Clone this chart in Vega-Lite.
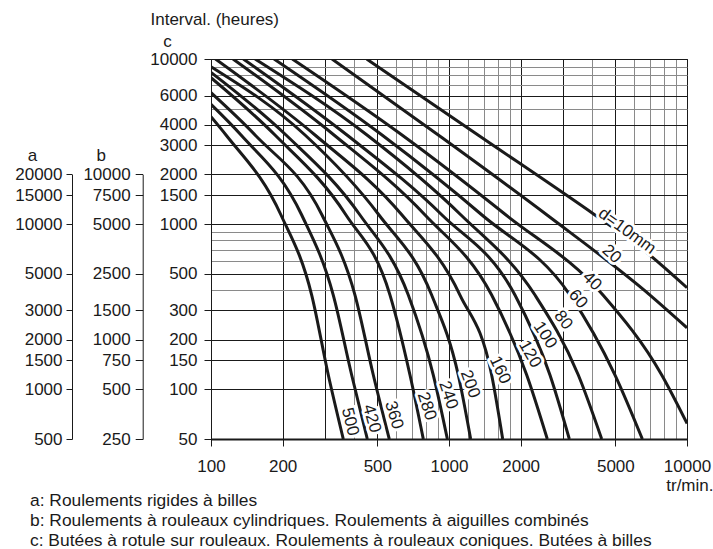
{
  "$schema": "https://vega.github.io/schema/vega-lite/v6.json",
  "width": 476,
  "height": 380,
  "autosize": {"type": "none"},
  "padding": {"left": 211, "top": 59, "right": 26, "bottom": 110},
  "background": "white",
  "config": {
    "font": "Liberation Sans",
    "view": {"stroke": "#1a1a1a", "strokeWidth": 1},
    "axis": {
      "labelFont": "Liberation Sans", "labelFontSize": 17, "labelColor": "#1a1a1a",
      "titleFont": "Liberation Sans", "titleFontSize": 17, "titleFontWeight": "normal", "titleColor": "#1a1a1a",
      "domainColor": "#1a1a1a", "tickColor": "#1a1a1a",
      "labelOverlap": false, "labelBound": false, "labelFlush": false
    }
  },
  "title": {
    "text": ["a: Roulements rigides à billes", "b: Roulements à rouleaux cylindriques. Roulements à aiguilles combinés", "c: Butées à rotule sur rouleaux. Roulements à rouleaux coniques. Butées à billes"],
    "orient": "bottom", "anchor": "start", "frame": "group", "dx": -181, "offset": -1,
    "fontSize": 17.4, "fontWeight": "normal", "font": "Liberation Sans", "color": "#1a1a1a", "lineHeight": 20
  },
  "datasets": {
    "curves": [
      {"d": 500, "rpm": 100, "h": 4473}, {"d": 500, "rpm": 115.6, "h": 3465}, {"d": 500, "rpm": 196.8, "h": 1136}, {"d": 500, "rpm": 264.9, "h": 372}, {"d": 500, "rpm": 311.1, "h": 122}, {"d": 500, "rpm": 359.6, "h": 50},
      {"d": 420, "rpm": 100, "h": 5316}, {"d": 420, "rpm": 133.7, "h": 3465}, {"d": 420, "rpm": 240.5, "h": 1136}, {"d": 420, "rpm": 326.4, "h": 372}, {"d": 420, "rpm": 390, "h": 122}, {"d": 420, "rpm": 453.7, "h": 50},
      {"d": 360, "rpm": 100, "h": 6250}, {"d": 360, "rpm": 153.1, "h": 3465}, {"d": 360, "rpm": 292.7, "h": 1136}, {"d": 360, "rpm": 402.7, "h": 372}, {"d": 360, "rpm": 480.8, "h": 122}, {"d": 360, "rpm": 561, "h": 50},
      {"d": 280, "rpm": 100, "h": 7705}, {"d": 280, "rpm": 185.7, "h": 3465}, {"d": 280, "rpm": 369.2, "h": 1136}, {"d": 280, "rpm": 565.1, "h": 372}, {"d": 280, "rpm": 685.6, "h": 122}, {"d": 280, "rpm": 779.8, "h": 50},
      {"d": 240, "rpm": 100, "h": 8306}, {"d": 240, "rpm": 206.6, "h": 3465}, {"d": 240, "rpm": 422.6, "h": 1136}, {"d": 240, "rpm": 674.5, "h": 372}, {"d": 240, "rpm": 859.1, "h": 122}, {"d": 240, "rpm": 984.3, "h": 50},
      {"d": 200, "rpm": 100, "h": 8981}, {"d": 200, "rpm": 248.3, "h": 3465}, {"d": 200, "rpm": 508, "h": 1136}, {"d": 200, "rpm": 845.5, "h": 372}, {"d": 200, "rpm": 1094, "h": 122}, {"d": 200, "rpm": 1233, "h": 50},
      {"d": 160, "rpm": 104.4, "h": 10000}, {"d": 160, "rpm": 273.5, "h": 3465}, {"d": 160, "rpm": 634.6, "h": 1136}, {"d": 160, "rpm": 1112, "h": 372}, {"d": 160, "rpm": 1511, "h": 122}, {"d": 160, "rpm": 1681, "h": 50},
      {"d": 120, "rpm": 123.7, "h": 10000}, {"d": 120, "rpm": 328.6, "h": 3465}, {"d": 120, "rpm": 793.2, "h": 1136}, {"d": 120, "rpm": 1511, "h": 372}, {"d": 120, "rpm": 2121, "h": 122}, {"d": 120, "rpm": 2588, "h": 50},
      {"d": 100, "rpm": 136.7, "h": 10000}, {"d": 100, "rpm": 372.7, "h": 3465}, {"d": 100, "rpm": 934.5, "h": 1136}, {"d": 100, "rpm": 1893, "h": 372}, {"d": 100, "rpm": 2656, "h": 122}, {"d": 100, "rpm": 3203, "h": 50},
      {"d": 80, "rpm": 153.1, "h": 10000}, {"d": 80, "rpm": 452.3, "h": 3465}, {"d": 80, "rpm": 1123, "h": 1136}, {"d": 80, "rpm": 2298, "h": 372}, {"d": 80, "rpm": 3494, "h": 122}, {"d": 80, "rpm": 4381, "h": 50},
      {"d": 60, "rpm": 184, "h": 10000}, {"d": 60, "rpm": 523.1, "h": 3465}, {"d": 60, "rpm": 1376, "h": 1136}, {"d": 60, "rpm": 3224, "h": 372}, {"d": 60, "rpm": 4984, "h": 122}, {"d": 60, "rpm": 6492, "h": 50},
      {"d": 40, "rpm": 219.6, "h": 10000}, {"d": 40, "rpm": 634.6, "h": 3465}, {"d": 40, "rpm": 1736, "h": 1136}, {"d": 40, "rpm": 4436, "h": 372}, {"d": 40, "rpm": 7831, "h": 122}, {"d": 40, "rpm": 10000, "h": 62.1},
      {"d": 20, "rpm": 322.4, "h": 10000}, {"d": 20, "rpm": 901.6, "h": 3465}, {"d": 20, "rpm": 2582, "h": 1136}, {"d": 20, "rpm": 6991, "h": 372}, {"d": 20, "rpm": 10000, "h": 235.8},
      {"d": 10, "rpm": 451, "h": 10000}, {"d": 10, "rpm": 1324, "h": 3465}, {"d": 10, "rpm": 4105, "h": 1136}, {"d": 10, "rpm": 6346, "h": 726.5}, {"d": 10, "rpm": 10000, "h": 412}
    ],
    "labels": [
      {"d": 10, "text": "d=10mm", "rpm": 5598, "h": 908},
      {"d": 20, "text": "20", "rpm": 4827, "h": 659},
      {"d": 40, "text": "40", "rpm": 3990, "h": 452},
      {"d": 60, "text": "60", "rpm": 3483, "h": 351.8},
      {"d": 80, "text": "80", "rpm": 3021, "h": 262.5},
      {"d": 100, "text": "100", "rpm": 2532, "h": 213},
      {"d": 120, "text": "120", "rpm": 2189, "h": 163.4},
      {"d": 160, "text": "160", "rpm": 1638, "h": 130.7},
      {"d": 200, "text": "200", "rpm": 1225, "h": 107.5},
      {"d": 240, "text": "240", "rpm": 993, "h": 92.2},
      {"d": 280, "text": "280", "rpm": 806, "h": 79.1},
      {"d": 360, "text": "360", "rpm": 587, "h": 69.8},
      {"d": 420, "text": "420", "rpm": 473.4, "h": 66.4},
      {"d": 500, "text": "500", "rpm": 383.7, "h": 63.6}
    ]
  },
  "layer": [
    {
      "layer": [
        {
          "data": {"name": "curves"},
          "mark": {"type": "line", "color": "#1a1a1a", "strokeWidth": 3, "interpolate": "monotone", "clip": true},
          "encoding": {
            "x": {
              "field": "rpm", "type": "quantitative",
              "scale": {"type": "log", "domain": [100, 10000], "nice": false},
              "axis": {
                "values": [100, 200, 300, 400, 500, 600, 700, 800, 900, 1000, 1200, 1400, 1600, 1800, 2000, 3000, 4000, 5000, 6000, 7000, 8000, 9000, 10000],
                "labelExpr": "indexof([100,200,500,1000,2000,5000,10000], datum.value) >= 0 ? format(datum.value, 'd') : ''",
                "grid": true,
                "gridColor": {"condition": {"test": "indexof([100,200,300,500,1000,2000,3000,5000,10000], datum.value) >= 0", "value": "#1a1a1a"}, "value": "#8a8a8a"},
                "gridWidth": 1,
                "tickColor": {"condition": {"test": "indexof([100,200,500,1000,2000,5000,10000], datum.value) >= 0", "value": "#1a1a1a"}, "value": "transparent"},
                "tickSize": 7, "labelPadding": 12, "domainWidth": 2,
                "title": "tr/min.", "titleX": 502, "titleY": 51, "titleAlign": "right", "titleBaseline": "alphabetic"
              }
            },
            "y": {
              "field": "h", "type": "quantitative",
              "scale": {"type": "log", "domain": [50, 10000], "nice": false},
              "axis": {
                "values": [50, 100, 150, 200, 300, 400, 500, 600, 700, 800, 900, 1000, 1500, 2000, 3000, 4000, 5000, 6000, 7000, 8000, 9000, 10000],
                "labelExpr": "indexof([50,100,150,200,300,500,1000,1500,2000,3000,4000,6000,10000], datum.value) >= 0 ? format(datum.value, 'd') : ''",
                "grid": true,
                "gridColor": {"condition": {"test": "indexof([50,100,150,200,300,500,1000,1500,2000,3000,4000,6000,10000], datum.value) >= 0", "value": "#1a1a1a"}, "value": "#8a8a8a"},
                "gridWidth": 1,
                "tickColor": {"condition": {"test": "indexof([50,100,150,200,300,500,1000,1500,2000,3000,4000,6000,10000], datum.value) >= 0", "value": "#1a1a1a"}, "value": "transparent"},
                "tickSize": 7, "labelPadding": 7,
                "title": "Interval. (heures)", "titleAngle": 0, "titleAlign": "left", "titleBaseline": "middle",
                "titleX": -61, "titleY": -40
              }
            },
            "detail": {"field": "d", "type": "nominal"}
          }
        },
        {
          "data": {"name": "labels"},
          "mark": {"type": "text", "font": "Liberation Sans", "fontSize": 17, "fill": "white", "stroke": "white", "strokeWidth": 6, "strokeJoin": "round"},
          "encoding": {
            "x": {"field": "rpm", "type": "quantitative"},
            "y": {"field": "h", "type": "quantitative"},
            "text": {"field": "text"},
            "angle": {"field": "d", "type": "quantitative", "scale": {"domain": [10, 20, 40, 60, 80, 100, 120, 160, 200, 280, 500], "range": [36, 42, 45, 50, 52, 57, 60, 65, 70, 72, 76]}, "legend": null}
          }
        },
        {
          "data": {"name": "labels"},
          "mark": {"type": "text", "font": "Liberation Sans", "fontSize": 17, "fill": "#1a1a1a"},
          "encoding": {
            "x": {"field": "rpm", "type": "quantitative"},
            "y": {"field": "h", "type": "quantitative"},
            "text": {"field": "text"},
            "angle": {"field": "d", "type": "quantitative", "scale": {"domain": [10, 20, 40, 60, 80, 100, 120, 160, 200, 280, 500], "range": [36, 42, 45, 50, 52, 57, 60, 65, 70, 72, 76]}, "legend": null}
          }
        }
      ]
    },
    {
      "data": {"values": [{"c": 50}, {"c": 10000}]},
      "mark": {"type": "point", "opacity": 0},
      "encoding": {
        "y": {
          "field": "c", "type": "quantitative",
          "scale": {"type": "log", "domain": [50, 10000], "nice": false},
          "axis": {"orient": "left", "offset": 0, "labels": false, "ticks": false, "domain": false, "grid": false,
            "title": "c", "titleAngle": 0, "titleAlign": "center", "titleBaseline": "middle", "titleX": -44, "titleY": -18}
        }
      }
    },
    {
      "data": {"values": [{"a": 500}, {"a": 20000}]},
      "mark": {"type": "point", "opacity": 0},
      "encoding": {
        "y": {
          "field": "a", "type": "quantitative",
          "scale": {"type": "log", "domain": [500, 20000], "range": [380, 115.4], "nice": false},
          "axis": {"orient": "left", "offset": 139, "values": [500, 1000, 1500, 2000, 3000, 5000, 10000, 15000, 20000], "format": "d", "grid": false, "tickSize": 6, "labelPadding": 4,
            "title": "a", "titleAngle": 0, "titleAlign": "center", "titleBaseline": "middle", "titleX": -40, "titleY": 96}
        }
      }
    },
    {
      "data": {"values": [{"b": 250}, {"b": 10000}]},
      "mark": {"type": "point", "opacity": 0},
      "encoding": {
        "y": {
          "field": "b", "type": "quantitative",
          "scale": {"type": "log", "domain": [250, 10000], "range": [380, 115.4], "nice": false},
          "axis": {"orient": "left", "offset": 68.3, "values": [250, 500, 750, 1000, 1500, 2500, 5000, 7500, 10000], "format": "d", "grid": false, "tickSize": 7.5, "labelPadding": 5,
            "title": "b", "titleAngle": 0, "titleAlign": "center", "titleBaseline": "middle", "titleX": -42, "titleY": 96}
        }
      }
    }
  ],
  "resolve": {"scale": {"y": "independent"}, "axis": {"y": "independent"}}
}
